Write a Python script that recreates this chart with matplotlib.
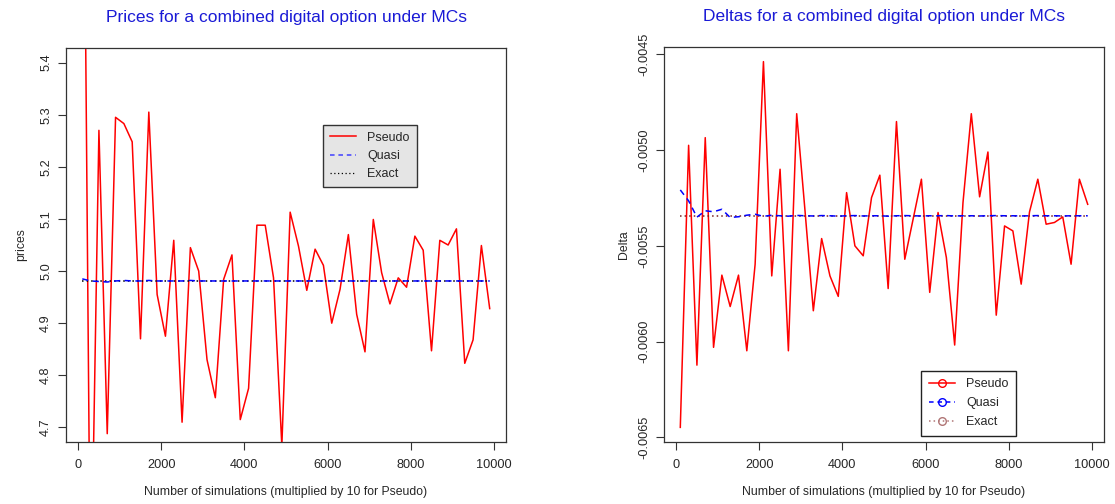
import numpy as np
import matplotlib
matplotlib.use("Agg")
import matplotlib.pyplot as plt
from matplotlib.lines import Line2D
from matplotlib.ticker import FormatStrFormatter

plt.rcParams['font.family'] = ['Liberation Sans', 'DejaVu Sans']
plt.rcParams['axes.unicode_minus'] = False

# number of simulations (x axis)
n_sims = list(range(100, 10000, 200))

# prices
pseudo_price = [6.20, 4.33, 5.270, 4.688, 5.295, 5.283, 5.248, 4.870, 5.305, 4.955,
                4.875, 5.059, 4.710, 5.045, 5.000, 4.830, 4.757, 4.984, 5.031, 4.715,
                4.775, 5.088, 5.088, 4.987, 4.665, 5.113, 5.048, 4.963, 5.042, 5.011,
                4.900, 4.965, 5.070, 4.917, 4.845, 5.099, 4.997, 4.937, 4.987, 4.969,
                5.067, 5.040, 4.847, 5.059, 5.050, 5.081, 4.823, 4.868, 5.049, 4.928]
quasi_price = [4.985, 4.981, 4.980, 4.979, 4.981, 4.982, 4.981, 4.981, 4.982, 4.981,
               4.981, 4.981, 4.981, 4.982, 4.981, 4.981, 4.981, 4.981, 4.981, 4.981,
               4.981, 4.981, 4.981, 4.981, 4.981, 4.981, 4.981, 4.981, 4.981, 4.981,
               4.981, 4.981, 4.981, 4.981, 4.981, 4.981, 4.981, 4.981, 4.981, 4.981,
               4.981, 4.981, 4.981, 4.981, 4.981, 4.981, 4.981, 4.981, 4.981, 4.981]
exact_price = 4.981

# deltas
pseudo_delta = [-0.006448, -0.004975, -0.006123, -0.004935, -0.006030, -0.005653, -0.005817,
                -0.005653, -0.006048, -0.005596, -0.004538, -0.005657, -0.005100, -0.006048,
                -0.004810, -0.005317, -0.005839, -0.005462, -0.005657, -0.005764, -0.005222,
                -0.005500, -0.005552, -0.005248, -0.005131, -0.005723, -0.004851, -0.005570,
                -0.005361, -0.005152, -0.005743, -0.005326, -0.005561, -0.006018, -0.005274,
                -0.004810, -0.005244, -0.005010, -0.005862, -0.005396, -0.005422, -0.005700,
                -0.005323, -0.005152, -0.005387, -0.005378, -0.005349, -0.005596, -0.005152,
                -0.005283]
quasi_delta = [-0.005208, -0.005265, -0.005350, -0.005317, -0.005322, -0.005309, -0.005352,
               -0.005348, -0.005340, -0.005335, -0.005346, -0.005340, -0.005343, -0.005345,
               -0.005341, -0.005343, -0.005344, -0.005342, -0.005343, -0.005345, -0.005343,
               -0.005342, -0.005344, -0.005343, -0.005343, -0.005345, -0.005343, -0.005342,
               -0.005343, -0.005344, -0.005343, -0.005343, -0.005342, -0.005344, -0.005343,
               -0.005343, -0.005344, -0.005343, -0.005342, -0.005343, -0.005343, -0.005344,
               -0.005343, -0.005342, -0.005343, -0.005343, -0.005344, -0.005343, -0.005343,
               -0.005343]
exact_delta = -0.005343

txt = '#262626'
title_col = '#1a1ad6'

fig = plt.figure(figsize=(11.15, 5.04), dpi=100)
ax1 = fig.add_axes([66/1115, 62/504, 440/1115, 394/504])
ax2 = fig.add_axes([664/1115, 62/504, 440/1115, 395/504])


def style_axes(ax):
    for s in ax.spines.values():
        s.set_color('#333333')
        s.set_linewidth(0.9)
    ax.tick_params(direction='out', length=6, width=0.8, colors='#333333',
                   labelcolor=txt, labelsize=9.2)
    ax.set_xticks([0, 2000, 4000, 6000, 8000, 10000])
    ax.set_xlim(100 - 0.04 * 9800, 9900 + 0.04 * 9800)
    ax.tick_params(axis='x', pad=6)
    ax.tick_params(axis='y', pad=4)
    for lab in ax.get_yticklabels():
        lab.set_rotation(90)
        lab.set_va('center')
    ax.set_xlabel('Number of simulations (multiplied by 10 for Pseudo)',
                  fontsize=8.8, color=txt, labelpad=11)


def style_legend(leg, face, edge):
    leg.get_frame().set_facecolor(face)
    leg.get_frame().set_edgecolor(edge)
    leg.get_frame().set_alpha(1)
    leg.get_frame().set_linewidth(1.0)
    for t in leg.get_texts():
        t.set_color(txt)


# left: prices
ax1.plot(n_sims, pseudo_price, color='red', lw=1.1)
ax1.plot(n_sims, [exact_price] * len(n_sims), color='black', lw=1.1, ls=(0, (1, 2)))
ax1.plot(n_sims, quasi_price, color='blue', lw=1.1, ls=(0, (4, 3)))
ax1.set_ylim(4.7 - 0.04 * 0.7, 5.4 + 0.04 * 0.7)
ax1.set_yticks([4.7, 4.8, 4.9, 5.0, 5.1, 5.2, 5.3, 5.4])
ax1.yaxis.set_major_formatter(FormatStrFormatter('%.1f'))
style_axes(ax1)
ax1.set_ylabel('prices', fontsize=8.8, color=txt, labelpad=9)
ax1.set_title('Prices for a combined digital option under MCs', color=title_col,
              fontsize=12.5, pad=19)

h1 = [Line2D([], [], color='red', lw=1.1),
      Line2D([], [], color='#4040ff', lw=1.1, ls=(0, (3, 2.5))),
      Line2D([], [], color='black', lw=0.9, ls=(0, (1, 2)))]
leg1 = ax1.legend(h1, ['Pseudo', 'Quasi', 'Exact'], loc='upper left',
                  bbox_to_anchor=(0.584, 0.805), fontsize=9, frameon=True,
                  fancybox=False, handlelength=2.1, handletextpad=0.9,
                  labelspacing=0.5, borderpad=0.55, borderaxespad=0)
style_legend(leg1, '#e5e5e5', '#333333')

# right: deltas
ax2.plot(n_sims, pseudo_delta, color='red', lw=1.1)
ax2.plot(n_sims, [exact_delta] * len(n_sims), color='#7a1f1f', lw=1.1, ls=(0, (1, 2)))
ax2.plot(n_sims, quasi_delta, color='blue', lw=1.1, ls=(0, (4, 3)))
dmin, dmax = min(pseudo_delta), max(pseudo_delta)
ax2.set_ylim(dmin - 0.04 * (dmax - dmin), dmax + 0.04 * (dmax - dmin))
ax2.set_yticks([-0.0065, -0.0060, -0.0055, -0.0050, -0.0045])
ax2.yaxis.set_major_formatter(FormatStrFormatter('%.4f'))
style_axes(ax2)
ax2.set_ylabel('Delta', fontsize=8.8, color=txt, labelpad=6)
ax2.set_title('Deltas for a combined digital option under MCs', color=title_col,
              fontsize=12.5, pad=19)

h2 = [Line2D([], [], color='red', lw=1.1, marker='o', mfc='none', ms=5.5),
      Line2D([], [], color='blue', lw=1.1, ls=(0, (3, 2.5)), marker='o', mfc='none', ms=5.5),
      Line2D([], [], color='#b07575', lw=1.1, ls=(0, (1, 2)), marker='o', mfc='none', ms=5.5)]
leg2 = ax2.legend(h2, ['Pseudo', 'Quasi', 'Exact'], loc='lower left',
                  bbox_to_anchor=(0.585, 0.016), fontsize=9, frameon=True,
                  fancybox=False, handlelength=2.1, handletextpad=0.9,
                  labelspacing=0.55, borderpad=0.6, borderaxespad=0)
style_legend(leg2, 'white', '#222222')

fig.savefig('out.png', dpi=100, facecolor='white')
